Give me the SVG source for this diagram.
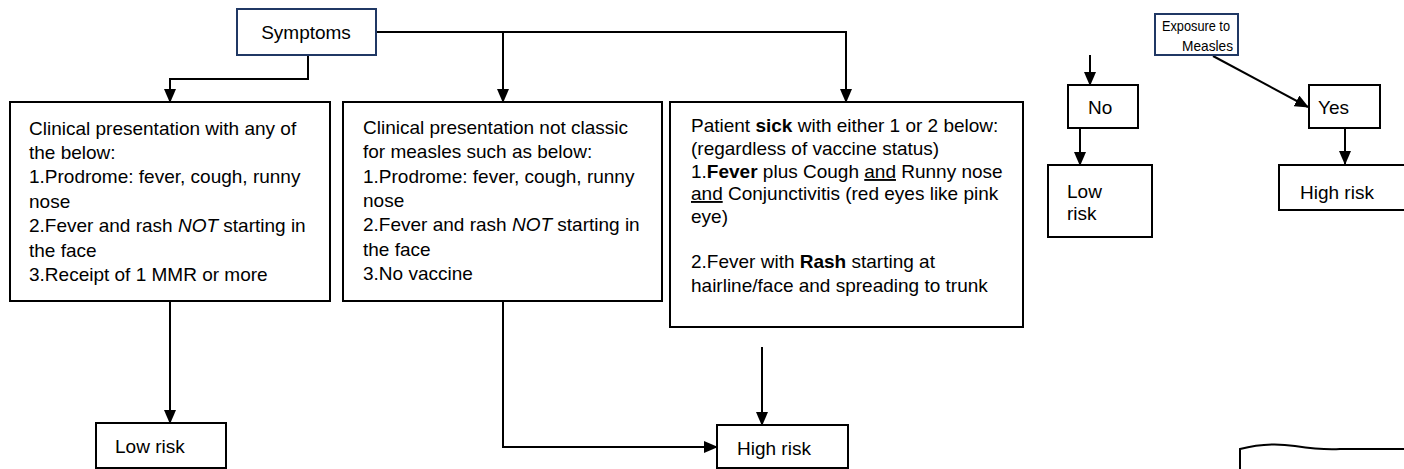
<svg xmlns="http://www.w3.org/2000/svg" width="1404" height="469" viewBox="0 0 1404 469">
<defs>
<style>
.box{fill:#fff;stroke:#000;stroke-width:2}
.nbox{fill:#fff;stroke:#203864;stroke-width:2}
.t{font-family:"Liberation Sans",Arial,sans-serif;font-size:19px;fill:#000}
.ts{font-family:"Liberation Sans",Arial,sans-serif;font-size:15px;fill:#000}
.c{fill:none;stroke:#000;stroke-width:2}
.i{font-style:italic}
.b{font-weight:bold}
.u{text-decoration:underline}
</style>
<marker id="ah" markerUnits="userSpaceOnUse" markerWidth="14" markerHeight="12" refX="13" refY="6" orient="auto">
<path d="M0,0 L14,6 L0,12 Z" fill="#000"/>
</marker>
</defs>
<rect width="1404" height="469" fill="#fff"/>

<g id="connectors">
<path class="c" d="M376,32 H846 V102" marker-end="url(#ah)"/>
<path class="c" d="M503,32 V102" marker-end="url(#ah)"/>
<path class="c" d="M308,55 V79 H170 V102" marker-end="url(#ah)"/>
<path class="c" d="M170,301 V423" marker-end="url(#ah)"/>
<path class="c" d="M503,301 V447 H717" marker-end="url(#ah)"/>
<path class="c" d="M762,347 V425" marker-end="url(#ah)"/>
<path class="c" d="M1090,55 V85" marker-end="url(#ah)"/>
<path class="c" d="M1213,56 L1308,107" marker-end="url(#ah)"/>
<path class="c" d="M1080,122 V165" marker-end="url(#ah)"/>
<path class="c" d="M1345,128 V164" marker-end="url(#ah)"/>
</g>

<g id="symptoms">
<rect class="nbox" x="237" y="9" width="139" height="46"/>
<text class="t" x="306" y="39" text-anchor="middle">Symptoms</text>
</g>

<g id="box-any">
<rect class="box" x="10" y="102" width="320" height="199"/>
<text class="t" x="29" y="135">Clinical presentation with any of</text>
<text class="t" x="29" y="159">the below:</text>
<text class="t" x="29" y="183">1.Prodrome: fever, cough, runny</text>
<text class="t" x="29" y="208">nose</text>
<text class="t" x="29" y="232">2.Fever and rash <tspan class="i">NOT</tspan> starting in</text>
<text class="t" x="29" y="257">the face</text>
<text class="t" x="29" y="281">3.Receipt of 1 MMR or more</text>
</g>

<g id="box-notclassic">
<rect class="box" x="343" y="102" width="319" height="199"/>
<text class="t" x="363" y="134">Clinical presentation not classic</text>
<text class="t" x="363" y="158">for measles such as below:</text>
<text class="t" x="363" y="183">1.Prodrome: fever, cough, runny</text>
<text class="t" x="363" y="207">nose</text>
<text class="t" x="363" y="231">2.Fever and rash <tspan class="i">NOT</tspan> starting in</text>
<text class="t" x="363" y="256">the face</text>
<text class="t" x="363" y="280">3.No vaccine</text>
</g>

<g id="box-sick">
<rect class="box" x="670" y="102" width="353" height="225"/>
<text class="t" x="691" y="132">Patient <tspan class="b">sick</tspan> with either 1 or 2 below:</text>
<text class="t" x="691" y="155">(regardless of vaccine status)</text>
<text class="t" x="691" y="178">1.<tspan class="b">Fever</tspan> plus Cough <tspan class="u">and</tspan> Runny nose</text>
<text class="t" x="691" y="200"><tspan class="u">and</tspan> Conjunctivitis (red eyes like pink</text>
<text class="t" x="691" y="223">eye)</text>
<text class="t" x="691" y="268">2.Fever with <tspan class="b">Rash</tspan> starting at</text>
<text class="t" x="691" y="292">hairline/face and spreading to trunk</text>
</g>

<g id="low-risk-1">
<rect class="box" x="96" y="423" width="130" height="45"/>
<text class="t" x="115" y="453">Low risk</text>
</g>

<g id="high-risk-1">
<rect class="box" x="717" y="425" width="131" height="43"/>
<text class="t" x="737" y="455">High risk</text>
</g>

<g id="exposure">
<rect class="nbox" x="1155" y="14" width="83" height="41"/>
<text class="ts" x="1162" y="31" textLength="68" lengthAdjust="spacingAndGlyphs">Exposure to</text>
<text class="ts" x="1182" y="51" textLength="51" lengthAdjust="spacingAndGlyphs">Measles</text>
</g>

<g id="no">
<rect class="box" x="1068" y="85" width="70" height="43"/>
<text class="t" x="1088" y="114">No</text>
</g>

<g id="yes">
<rect class="box" x="1309" y="85" width="71" height="43"/>
<text class="t" x="1318" y="114">Yes</text>
</g>

<g id="low-risk-2">
<rect class="box" x="1048" y="165" width="104" height="72"/>
<text class="t" x="1067" y="198">Low</text>
<text class="t" x="1067" y="220">risk</text>
</g>

<g id="high-risk-2">
<rect class="box" x="1279" y="165" width="126" height="45"/>
<text class="t" x="1300" y="199">High risk</text>
</g>

<g id="partial-shape">
<path class="c" d="M1240,469 V449 C1255,445 1275,443 1295,446 C1315,449 1325,450 1340,449 H1404"/>
</g>
</svg>
